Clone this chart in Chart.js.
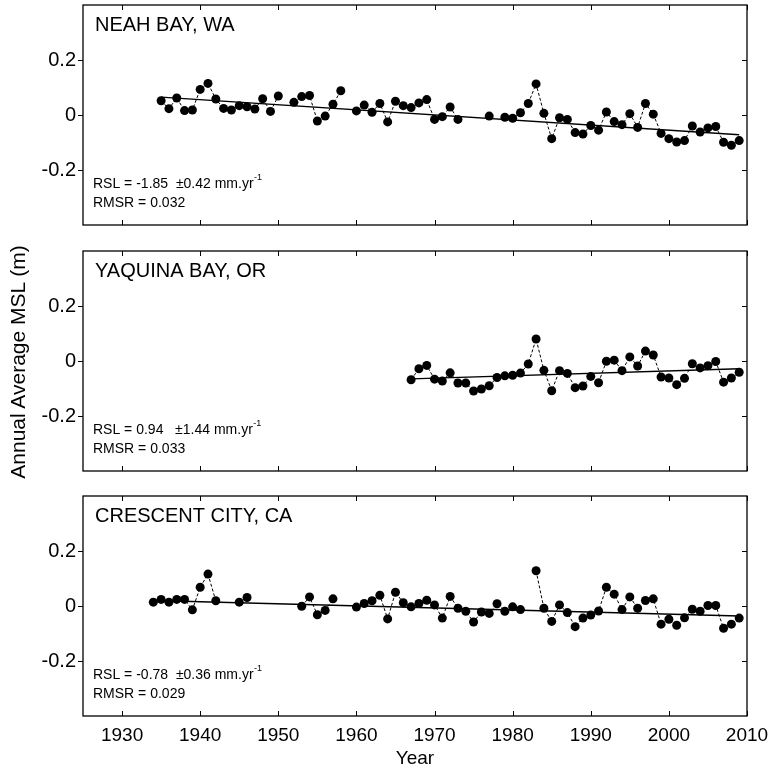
<!DOCTYPE html>
<html>
<head>
<meta charset="utf-8">
<script src="https://cdn.jsdelivr.net/npm/chart.js@4.4.0/dist/chart.umd.min.js"></script>
<style>
  body { margin: 0; background: #fff; width: 771px; height: 768px; position: relative; overflow: hidden;
         font-family: "Liberation Sans", Arial, sans-serif; }
  canvas { position: absolute; left: 0; }
  #ytitle { position: absolute; left: -182px; top: 350px; width: 400px; height: 24px; line-height: 24px;
            text-align: center; font-size: 21px; color: #000; transform: rotate(-90deg); }
</style>
</head>
<body>
<canvas id="panel0" width="771" height="230" style="top:0px"></canvas>
<canvas id="panel1" width="771" height="230" style="top:246px"></canvas>
<canvas id="panel2" width="771" height="277" style="top:491px"></canvas>
<div id="ytitle">Annual Average MSL (m)</div>
<script>
// Tide gauge annual mean sea level panels

Chart.defaults.font.family = '"Liberation Sans", Arial, sans-serif';
Chart.defaults.color = '#000';

const FONT = '"Liberation Sans", Arial, sans-serif';

// axis ticks
const xTicks = [1930, 1940, 1950, 1960, 1970, 1980, 1990, 2000, 2010];
const yTicks = [-0.2, 0, 0.2];

// panel texts
const stations = ['NEAH BAY, WA', 'YAQUINA BAY, OR', 'CRESCENT CITY, CA'];
const rslTexts = ['RSL = -1.85  \u00b10.42 mm.yr', 'RSL = 0.94   \u00b11.44 mm.yr', 'RSL = -0.78  \u00b10.36 mm.yr'];
const rmsrTexts = ['RMSR = 0.032', 'RMSR = 0.033', 'RMSR = 0.029'];

// Neah Bay
const neahYears = [
    1935, 1936, 1937, 1938, 1939, 1940, 1941, 1942, 1943, 1944,
    1945, 1946, 1947, 1948, 1949, 1950, 1951, 1952, 1953, 1954,
    1955, 1956, 1957, 1958, 1959, 1960, 1961, 1962, 1963, 1964,
    1965, 1966, 1967, 1968, 1969, 1970, 1971, 1972, 1973, 1974,
    1975, 1976, 1977, 1978, 1979, 1980, 1981, 1982, 1983, 1984,
    1985, 1986, 1987, 1988, 1989, 1990, 1991, 1992, 1993, 1994,
    1995, 1996, 1997, 1998, 1999, 2000, 2001, 2002, 2003, 2004,
    2005, 2006, 2007, 2008, 2009
];
const neahMsl = [
    0.052, 0.023, 0.062, 0.016, 0.018, 0.093, 0.115, 0.058, 0.024, 0.018,
    0.034, 0.030, 0.022, 0.059, 0.013, 0.069, null, 0.046, 0.067, 0.071,
    -0.022, -0.004, 0.039, 0.088, null, 0.015, 0.036, 0.010, 0.042, -0.025,
    0.050, 0.034, 0.027, 0.044, 0.056, -0.016, -0.006, 0.029, -0.016, null,
    null, null, -0.004, null, -0.008, -0.012, 0.008, 0.042, 0.113, 0.006,
    -0.086, -0.010, -0.016, -0.064, -0.069, -0.038, -0.055, 0.011, -0.024, -0.035,
    0.005, -0.045, 0.042, 0.003, -0.067, -0.086, -0.098, -0.093, -0.040, -0.062,
    -0.047, -0.042, -0.099, -0.110, -0.093
];
const neahTrendYears = [1935, 2009];
const neahTrend = [0.065, -0.072];

// Yaquina Bay
const yaquinaYears = [
    1967, 1968, 1969, 1970, 1971, 1972, 1973,
    1974, 1975, 1976, 1977, 1978, 1979, 1980, 1981, 1982, 1983,
    1984, 1985, 1986, 1987, 1988, 1989, 1990, 1991, 1992, 1993,
    1994, 1995, 1996, 1997, 1998, 1999, 2000, 2001, 2002, 2003,
    2004, 2005, 2006, 2007, 2008, 2009
];
const yaquinaMsl = [
    -0.068, -0.028, -0.016, -0.066, -0.073, -0.043, -0.080,
    -0.080, -0.109, -0.102, -0.090, -0.060, -0.054, -0.052, -0.044, -0.011, 0.080,
    -0.034, -0.108, -0.035, -0.045, -0.097, -0.091, -0.056, -0.079, -0.001, 0.003,
    -0.035, 0.015, -0.018, 0.036, 0.022, -0.058, -0.062, -0.086, -0.063, -0.010,
    -0.025, -0.017, -0.002, -0.077, -0.062, -0.041
];
const yaquinaTrendYears = [1967, 2009];
const yaquinaTrend = [-0.065, -0.028];

// Crescent City
const crescentYears = [
    1934, 1935, 1936, 1937, 1938, 1939, 1940, 1941, 1942, 1943,
    1944, 1945, 1946, 1947, 1948, 1949, 1950, 1951, 1952, 1953,
    1954, 1955, 1956, 1957, 1958, 1959, 1960, 1961, 1962, 1963,
    1964, 1965, 1966, 1967, 1968, 1969, 1970, 1971, 1972, 1973,
    1974, 1975, 1976, 1977, 1978, 1979, 1980, 1981, 1982, 1983,
    1984, 1985, 1986, 1987, 1988, 1989, 1990, 1991, 1992, 1993,
    1994, 1995, 1996, 1997, 1998, 1999, 2000, 2001, 2002, 2003,
    2004, 2005, 2006, 2007, 2008, 2009
];
const crescentMsl = [
    0.014, 0.024, 0.014, 0.024, 0.024, -0.014, 0.068, 0.116, 0.019, null,
    null, 0.014, 0.031, null, null, null, null, null, null, -0.001,
    0.033, -0.032, -0.016, 0.026, null, null, -0.004, 0.009, 0.019, 0.039,
    -0.047, 0.050, 0.012, -0.003, 0.009, 0.021, 0.004, -0.044, 0.035, -0.008,
    -0.019, -0.058, -0.022, -0.027, 0.008, -0.019, -0.003, -0.013, null, 0.128,
    -0.008, -0.056, 0.004, -0.024, -0.075, -0.044, -0.033, -0.018, 0.068, 0.043,
    -0.013, 0.033, -0.008, 0.020, 0.026, -0.066, -0.048, -0.070, -0.043, -0.012,
    -0.019, 0.002, 0.002, -0.081, -0.066, -0.044
];
const crescentTrendYears = [1934, 2009];
const crescentTrend = [0.020, -0.036];

// Frame, inside ticks and panel texts
function panelDecor(i) {
    return {
        id: 'decor' + i,
        afterDraw(chart) {
            const { ctx, chartArea: a, scales: { x, y } } = chart;
            ctx.save();
            ctx.strokeStyle = '#000';
            ctx.lineWidth = 1.3;
            ctx.strokeRect(a.left, a.top, a.right - a.left, a.bottom - a.top);

            ctx.lineWidth = 1;
            ctx.beginPath();
            xTicks.forEach(v => {
                const px = Math.round(x.getPixelForValue(v)) + 0.5;
                ctx.moveTo(px, a.top); ctx.lineTo(px, a.top + 5);
                ctx.moveTo(px, a.bottom); ctx.lineTo(px, a.bottom - 5);
            });
            yTicks.forEach(v => {
                const py = Math.round(y.getPixelForValue(v)) + 0.5;
                ctx.moveTo(a.left - 5, py); ctx.lineTo(a.left, py);
                ctx.moveTo(a.right, py); ctx.lineTo(a.right - 5, py);
            });
            ctx.stroke();

            ctx.fillStyle = '#000';
            ctx.textBaseline = 'middle';
            ctx.font = '20px ' + FONT;
            ctx.fillText(stations[i], a.left + 12, a.top + 20.5);

            ctx.font = '14px ' + FONT;
            ctx.fillText(rslTexts[i], a.left + 10, a.top + 179);
            const w = ctx.measureText(rslTexts[i]).width;
            ctx.fillText(rmsrTexts[i], a.left + 10, a.top + 198.5);
            ctx.font = '9px ' + FONT;
            ctx.fillText('-1', a.left + 10 + w + 0.5, a.top + 173);
            ctx.restore();
        }
    };
}

function makePanel(i, years, msl, trendYears, trend, showX) {
    const ctx = document.getElementById('panel' + i).getContext('2d');
    return new Chart(ctx, {
        type: 'line',
        data: {
            datasets: [
                {
                    // fitted trend
                    data: trendYears.map((yr, k) => ({ x: yr, y: trend[k] })),
                    borderColor: '#000',
                    borderWidth: 1.5,
                    pointRadius: 0,
                    fill: false
                },
                {
                    // annual means
                    data: years.map((yr, k) => ({ x: yr, y: msl[k] })),
                    borderColor: '#000',
                    borderWidth: 1,
                    borderDash: [3, 2],
                    pointRadius: 4.5,
                    pointBackgroundColor: '#000',
                    pointBorderWidth: 0,
                    spanGaps: false,
                    fill: false
                }
            ]
        },
        options: {
            responsive: false,
            animation: false,
            layout: { padding: { top: 5, right: 24, bottom: showX ? 0 : 5, left: 0 } },
            plugins: {
                legend: { display: false },
                tooltip: { enabled: false }
            },
            scales: {
                x: {
                    type: 'linear',
                    min: 1925,
                    max: 2010,
                    display: showX,
                    afterBuildTicks: s => { s.ticks = xTicks.map(v => ({ value: v })); },
                    afterFit: s => {
                        s.paddingLeft = 0;
                        s.paddingRight = 0;
                        s.height = showX ? 52 : 0;
                    },
                    grid: { display: false, drawTicks: false },
                    border: { display: false },
                    ticks: {
                        color: '#000',
                        font: { size: 19 },
                        padding: 8,
                        maxRotation: 0,
                        callback: v => String(v)
                    },
                    title: {
                        display: showX,
                        text: 'Year',
                        color: '#000',
                        font: { size: 19, lineHeight: 1 },
                        padding: 0
                    }
                },
                y: {
                    type: 'linear',
                    min: -0.4,
                    max: 0.4,
                    afterBuildTicks: s => { s.ticks = yTicks.map(v => ({ value: v })); },
                    afterFit: s => {
                        s.paddingTop = 0;
                        s.paddingBottom = 0;
                        s.width = 83;
                    },
                    grid: { display: false, drawTicks: false },
                    border: { display: false },
                    ticks: {
                        color: '#000',
                        font: { size: 20 },
                        padding: 7,
                        callback: v => String(v)
                    }
                }
            }
        },
        plugins: [panelDecor(i)]
    });
}

makePanel(0, neahYears, neahMsl, neahTrendYears, neahTrend, false);
makePanel(1, yaquinaYears, yaquinaMsl, yaquinaTrendYears, yaquinaTrend, false);
makePanel(2, crescentYears, crescentMsl, crescentTrendYears, crescentTrend, true);
</script>
</body>
</html>
